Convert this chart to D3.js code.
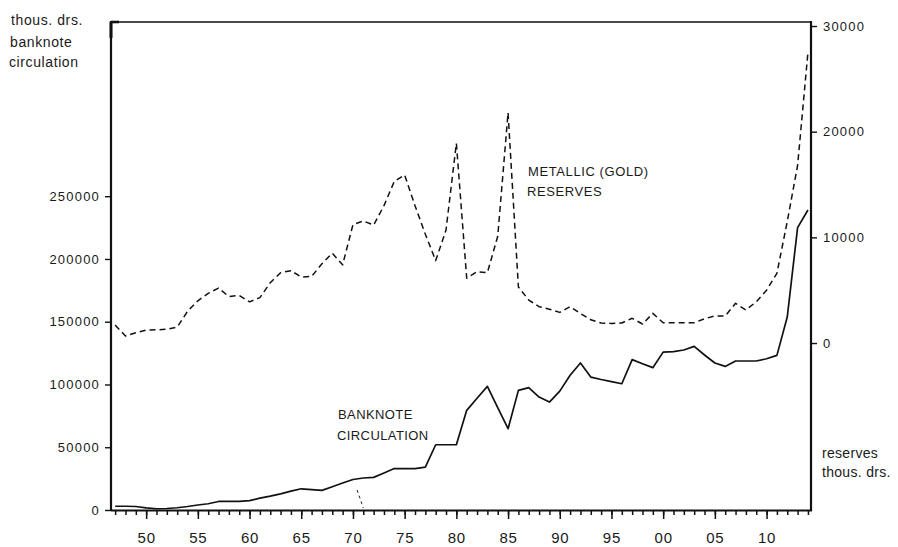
<!DOCTYPE html>
<html>
<head>
<meta charset="utf-8">
<script src="https://cdn.jsdelivr.net/npm/d3@7"></script>
<style>
  html, body { margin: 0; padding: 0; background: #fff; }
  svg { display: block; }
  text { font-family: "Liberation Sans", Arial, Helvetica, sans-serif; fill: #1a1a1a; }
</style>
</head>
<body>
<svg id="chart" width="898" height="547"></svg>
<script>
// ---- data ----
const years = d3.range(1847, 1915);
const circulation = [
  3000, 3000, 2800, 1700, 1000, 1200, 1800, 2800, 4000, 5000,
  6800, 6800, 6800, 7500, 9500, 11000, 12900, 15000, 16900, 16200,
  15600, 18500, 21500, 24300, 25500, 26000, 29500, 33000, 33000, 33000,
  34100, 52000, 52000, 52000, 79400, 89000, 98500, 81500, 64800, 95300,
  97500, 90000, 86000, 94700, 107300, 117100, 105900, 104000, 102300, 100600,
  119800, 116500, 113400, 125800, 126200, 127500, 130400, 123500, 117100, 114400,
  118700, 118700, 118700, 120500, 123200, 153700, 225000, 239000
];
const reserves = [
  1700, 660, 975, 1230, 1250, 1300, 1500, 3000, 4000, 4700,
  5200, 4400, 4500, 3900, 4300, 5700, 6650, 6850, 6250, 6300,
  7500, 8500, 7400, 11200, 11550, 11170, 13000, 15300, 15900, 13000,
  10300, 7800, 10700, 18900, 6130, 6750, 6660, 10100, 21800, 5300,
  4070, 3440, 3200, 2900, 3440, 2800, 2200, 1900, 1860, 1900,
  2340, 1800, 2810, 1920, 1920, 1920, 1920, 2300, 2560, 2560,
  3760, 3130, 3900, 5000, 6600, 11500, 16800, 27500
];
const leftTicks = [0, 50000, 100000, 150000, 200000, 250000];
const rightTicks = [0, 10000, 20000, 30000];
const majorYears = [1850, 1855, 1860, 1865, 1870, 1875, 1880, 1885, 1890, 1895, 1900, 1905, 1910];

// ---- layout ----
const L = 111, R = 810, T = 22, B = 510;
const svg = d3.select("#chart");

const x = d3.scaleLinear().domain([1846.6, 1914.2]).range([L, R]);
const yL = d3.scaleLinear().domain([0, 388800]).range([B, T]);
const yR = d3.scaleLinear().domain([-15800, 30380]).range([B, T]);

// frame
svg.append("line").attr("x1", L).attr("x2", R + 1).attr("y1", T).attr("y2", T)
  .attr("stroke", "#111").attr("stroke-width", 1.6);
svg.append("line").attr("x1", L).attr("x2", L).attr("y1", T - 1).attr("y2", B + 1)
  .attr("stroke", "#111").attr("stroke-width", 2.2);
svg.append("line").attr("x1", R + 1).attr("x2", R + 1).attr("y1", T - 1).attr("y2", B + 1)
  .attr("stroke", "#111").attr("stroke-width", 2.2);
svg.append("line").attr("x1", L).attr("x2", R + 2).attr("y1", B + 0.5).attr("y2", B + 0.5)
  .attr("stroke", "#111").attr("stroke-width", 2);
// thicker corner mark top-left
svg.append("line").attr("x1", L).attr("x2", L + 8).attr("y1", T).attr("y2", T)
  .attr("stroke", "#111").attr("stroke-width", 2.6);
svg.append("line").attr("x1", L).attr("x2", L).attr("y1", T).attr("y2", T + 16)
  .attr("stroke", "#111").attr("stroke-width", 3);

// left axis
const gL = svg.append("g").attr("transform", `translate(${L},0)`)
  .call(d3.axisLeft(yL).tickValues(leftTicks).tickSize(6).tickPadding(5).tickFormat(d3.format("d")));
gL.select(".domain").remove();
gL.selectAll("line").attr("stroke", "#111").attr("stroke-width", 1.4);
gL.selectAll("text").style("font-size", "13px").style("letter-spacing", "1.2px").attr("fill", "#1a1a1a");

// right axis
const gR = svg.append("g").attr("transform", `translate(${R + 1},0)`)
  .call(d3.axisRight(yR).tickValues(rightTicks).tickSize(6).tickPadding(6).tickFormat(d3.format("d")));
gR.select(".domain").remove();
gR.selectAll("line").attr("stroke", "#111").attr("stroke-width", 1.4);
gR.selectAll("text").style("font-size", "13px").style("letter-spacing", "1.2px").attr("fill", "#1a1a1a");

// bottom axis: minor yearly ticks
const gBm = svg.append("g").attr("transform", `translate(0,${B})`)
  .call(d3.axisBottom(x).tickValues(years).tickSize(5).tickFormat(""));
gBm.select(".domain").remove();
gBm.selectAll("line").attr("stroke", "#111").attr("stroke-width", 1.5);
// bottom axis: major ticks with labels
const gB = svg.append("g").attr("transform", `translate(0,${B})`)
  .call(d3.axisBottom(x).tickValues(majorYears).tickSize(9).tickPadding(13)
    .tickFormat(d => String(d % 100).padStart(2, "0")));
gB.select(".domain").remove();
gB.selectAll("line").attr("stroke", "#111").attr("stroke-width", 1.5);
gB.selectAll("text").style("font-size", "15px").style("letter-spacing", "0.8px").attr("fill", "#1a1a1a");

// lines
const circLine = d3.line().x((d, i) => x(years[i])).y(d => yL(d));
const resLine = d3.line().x((d, i) => x(years[i])).y(d => yR(d));

svg.append("path").datum(circulation).attr("d", circLine)
  .attr("fill", "none").attr("stroke", "#111").attr("stroke-width", 1.7)
  .attr("stroke-linejoin", "round");
svg.append("path").datum(reserves).attr("d", resLine)
  .attr("fill", "none").attr("stroke", "#111").attr("stroke-width", 1.5)
  .attr("stroke-dasharray", "6,4").attr("stroke-linejoin", "round");

// small dashed leader mark near 1870
svg.append("line").attr("x1", x(1870.4)).attr("y1", 490).attr("x2", x(1871)).attr("y2", 508)
  .attr("stroke", "#222").attr("stroke-width", 1).attr("stroke-dasharray", "3,3");

// text labels
function txt(s, tx, ty, size, ls) {
  svg.append("text").attr("x", tx).attr("y", ty).style("font-size", size + "px")
    .style("letter-spacing", (ls || 0) + "px").text(s);
}
txt("thous. drs.", 11, 25, 14, 0.6);
txt("banknote", 10, 47, 14, 0.6);
txt("circulation", 9, 67, 14, 0.6);
txt("reserves", 822, 458, 14, 0.3);
txt("thous. drs.", 822, 477, 14, 0.3);
txt("METALLIC (GOLD)", 528, 176, 13, 0.6);
txt("RESERVES", 527, 196, 13, 0.6);
txt("BANKNOTE", 338, 419, 13, 0.4);
txt("CIRCULATION", 337, 440, 13, 0.4);
</script>
</body>
</html>
